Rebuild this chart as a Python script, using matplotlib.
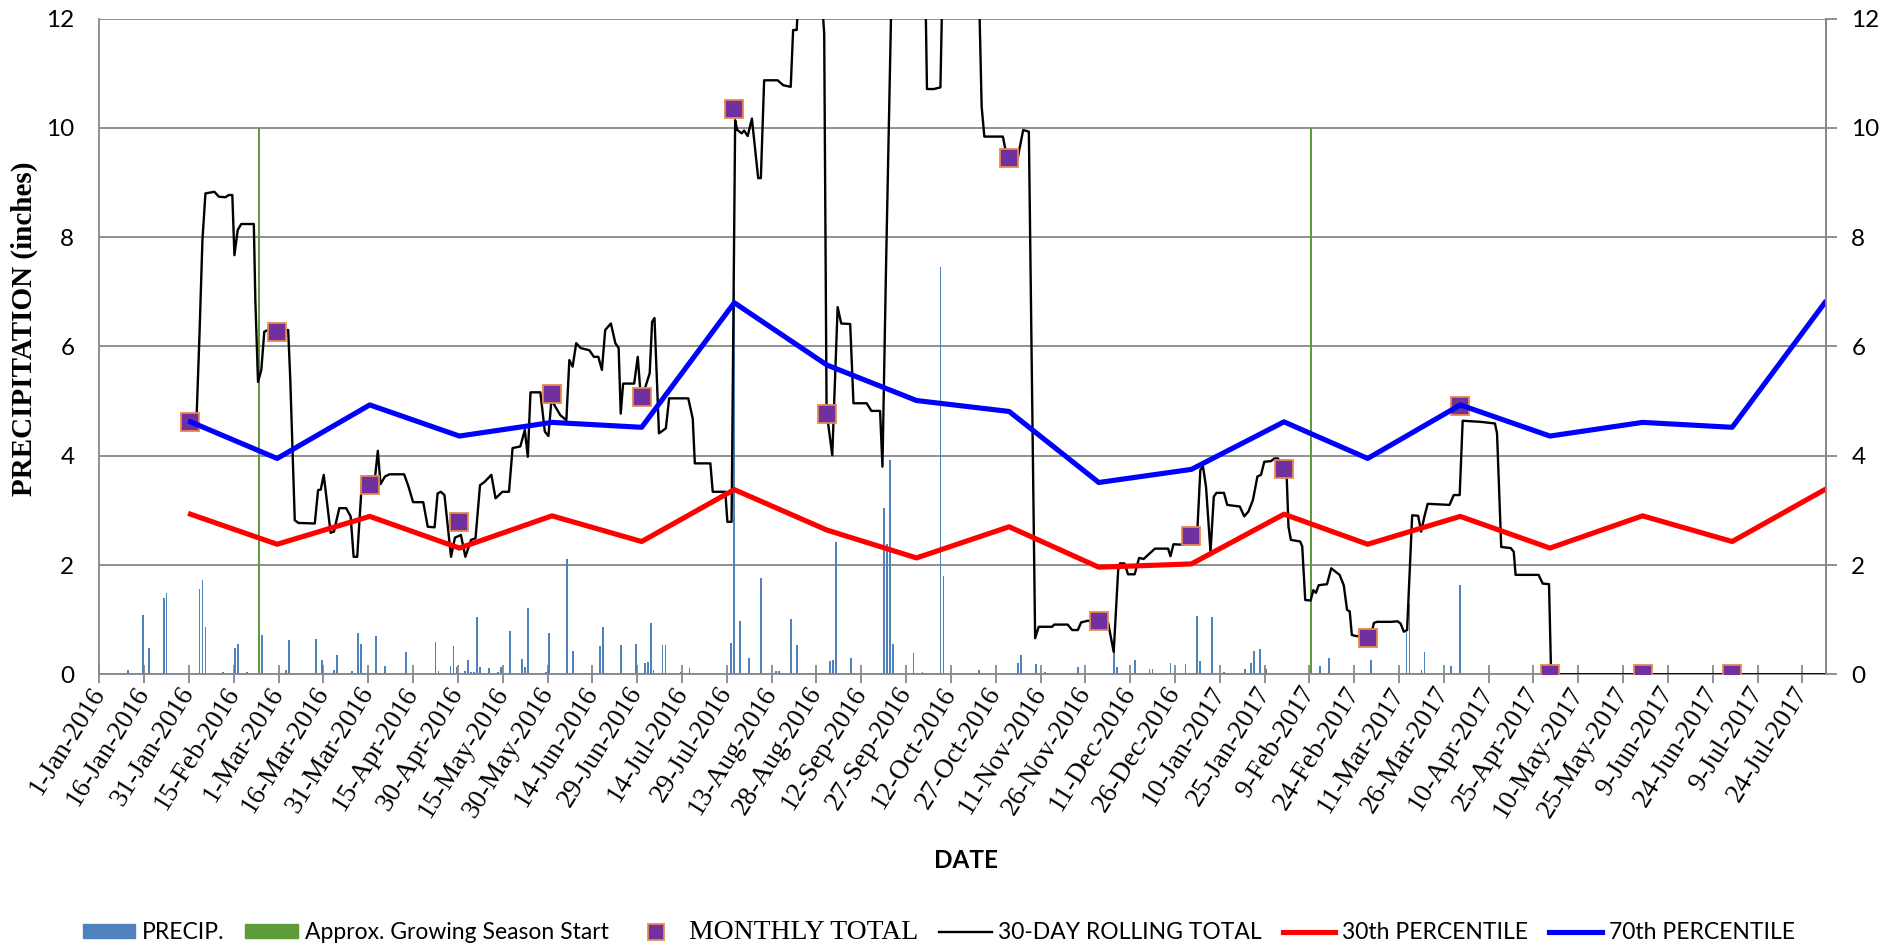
import pandas as pd
import matplotlib
matplotlib.use('Agg')
import matplotlib.pyplot as plt
import matplotlib.dates as mdates
from matplotlib.ticker import FuncFormatter
from matplotlib.patches import Patch
from matplotlib.lines import Line2D

start = pd.Timestamp('2016-01-01')

# daily precipitation, day number counted from 1-Jan-2016 (inches)
precip_day = [8, 9, 14, 16, 21, 22, 25, 33, 34, 35, 36, 41, 45, 46, 49, 54, 62, 63,
              72, 74, 78, 79, 84, 86, 87, 92, 95, 98, 102, 112, 113, 117, 118, 119,
              122, 123, 124, 125, 126, 127, 130, 133, 134, 137, 141, 142, 143, 149,
              150, 156, 158, 164, 167, 168, 174, 179, 182, 183, 184, 185, 188, 189,
              194, 197, 198, 200, 211, 212, 214, 217, 220, 221, 226, 227, 231, 233,
              244, 245, 246, 251, 262, 263, 264, 265, 272, 275, 278, 281, 282, 294,
              307, 308, 313, 316, 327, 333, 339, 340, 346, 347, 351, 352, 358, 363,
              366, 367, 368, 371, 372, 376, 383, 385, 386, 388, 390, 391, 405, 408,
              411, 425, 433, 437, 438, 442, 443, 452, 455]
precip_val = [0.02, 0.07, 1.09, 0.49, 1.40, 1.49, 0.02, 1.57, 1.73, 0.87, 0.03, 0.04,
              0.49, 0.55, 0.04, 0.72, 0.07, 0.62, 0.65, 0.26, 0.08, 0.35, 0.06, 0.75,
              0.55, 0.70, 0.16, 0.02, 0.41, 0.59, 0.06, 0.16, 0.52, 0.13, 0.06, 0.27,
              0.04, 0.04, 1.04, 0.13, 0.11, 0.04, 0.13, 0.79, 0.28, 0.13, 1.22, 0.04,
              0.75, 2.11, 0.43, 0.02, 0.52, 0.87, 0.53, 0.55, 0.21, 0.23, 0.93, 0.08,
              0.54, 0.54, 0.04, 0.12, 0.03, 0.02, 0.57, 7.00, 0.98, 0.30, 0.02, 1.76,
              0.06, 0.06, 1.02, 0.54, 0.24, 0.27, 2.42, 0.30, 3.04, 2.38, 3.92, 0.55,
              0.39, 0.05, 0.02, 7.45, 1.80, 0.07, 0.21, 0.35, 0.19, 0.04, 0.13, 0.02,
              0.55, 0.14, 0.26, 0.02, 0.10, 0.09, 0.21, 0.19, 0.02, 1.06, 0.24, 0.03,
              1.04, 0.04, 0.09, 0.20, 0.43, 0.46, 0.10, 0.03, 0.17, 0.15, 0.30, 0.27,
              0.02, 0.78, 1.29, 0.08, 0.41, 0.16, 1.63]

season_start = ['2016-02-23', '2017-02-09']
season_mark = [10, 10]

month_end = ['2016-01-31', '2016-02-29', '2016-03-31', '2016-04-30', '2016-05-31',
             '2016-06-30', '2016-07-31', '2016-08-31', '2016-09-30', '2016-10-31',
             '2016-11-30', '2016-12-31', '2017-01-31', '2017-02-28', '2017-03-31',
             '2017-04-30', '2017-05-31', '2017-06-30', '2017-07-31']
monthly_total = [4.62, 6.26, 3.46, 2.78, 5.13, 5.07, 10.35, 4.76, 13.5, 9.44,
                 0.98, 2.54, 3.75, 0.66, 4.91, 0.0, 0.0, 0.0]
pct30 = [2.93, 2.38, 2.89, 2.31, 2.90, 2.43, 3.38, 2.64, 2.13, 2.70, 1.96, 2.02,
         2.93, 2.38, 2.89, 2.31, 2.90, 2.43, 3.38]
pct70 = [4.62, 3.95, 4.93, 4.36, 4.61, 4.52, 6.80, 5.66, 5.01, 4.81, 3.51, 3.75,
         4.62, 3.95, 4.93, 4.36, 4.61, 4.52, 6.80]

# 30-day rolling total, day number counted from 1-Jan-2016
roll_day = [30.5, 32.5, 33.5, 34.5, 35.5, 38.5, 40.0, 42.2, 43.3, 44.5, 45.2, 46.3,
            47.5, 51.7, 52.2, 53.1, 54.2, 55.2, 56.4, 63.2, 63.9, 65.4, 66.6, 72.1,
            73.2, 74.1, 75.1, 76.6, 77.4, 78.5, 80.3, 82.6, 84.1, 85.1, 86.3, 87.8,
            89.3, 92.3, 93.2, 94.1, 95.6, 97.1, 102.0, 103.5, 105.0, 108.4, 109.9,
            112.2, 113.2, 114.3, 115.5, 117.7, 119.0, 121.0, 122.5, 124.4, 125.9,
            127.4, 128.9, 131.2, 132.6, 134.9, 137.1, 138.3, 140.9, 142.4, 143.4,
            144.3, 147.6, 149.1, 150.3, 151.3, 154.3, 156.3, 157.3, 158.4, 159.6,
            161.1, 164.0, 165.5, 167.0, 168.2, 169.3, 171.2, 172.7, 173.8, 174.5,
            175.3, 179.0, 180.2, 181.2, 182.7, 184.2, 185.0, 185.8, 187.3, 189.6,
            190.7, 197.1, 198.6, 199.3, 204.5, 205.3, 209.5, 210.2, 211.6, 212.8,
            213.5, 215.0, 215.8, 217.0, 218.4, 220.5, 221.4, 222.5, 227.0, 228.9,
            231.4, 232.2, 233.4, 234.5, 241.0, 242.6, 243.4, 245.3, 247.1, 248.3,
            251.3, 252.4, 256.8, 258.4, 261.3, 262.1, 263.3, 265.5, 276.2, 277.0,
            279.3, 281.5, 282.5, 294.0, 295.3, 296.2, 302.4, 303.2, 305.0, 307.2,
            309.2, 311.1, 313.2, 314.4, 318.9, 319.6, 324.1, 325.6, 327.5, 328.6,
            330.8, 337.6, 339.5, 341.0, 341.6, 343.1, 344.3, 346.5, 348.0, 349.5,
            353.3, 357.7, 358.5, 359.5, 363.0, 365.0, 367.5, 368.5, 369.4, 370.4,
            371.9, 373.0, 373.9, 376.4, 377.5, 381.7, 383.2, 384.6, 386.1, 387.6,
            388.8, 389.9, 392.1, 393.3, 394.5, 397.4, 398.0, 398.8, 401.9, 402.6,
            403.6, 405.4, 406.3, 407.2, 408.1, 410.9, 412.3, 413.7, 415.1, 416.5,
            417.6, 418.5, 419.2, 420.6, 425.5, 426.6, 427.6, 432.4, 434.5, 435.5,
            436.6, 437.7, 438.7, 439.4, 441.4, 442.4, 443.5, 444.6, 451.9, 453.3,
            455.3, 456.3, 462.3, 467.1, 467.8, 469.2, 472.4, 473.4, 474.0, 481.7,
            483.1, 485.2, 485.9, 577.5]
roll_val = [4.62, 4.65, 6.20, 7.95, 8.80, 8.83, 8.74, 8.73, 8.77, 8.77, 7.67, 8.13,
            8.24, 8.24, 6.85, 5.35, 5.57, 6.27, 6.30, 6.30, 5.39, 2.82, 2.77, 2.76,
            3.37, 3.38, 3.65, 2.95, 2.59, 2.61, 3.04, 3.04, 2.89, 2.15, 2.15, 3.46,
            3.62, 3.62, 4.09, 3.48, 3.62, 3.66, 3.66, 3.43, 3.15, 3.15, 2.70,
            2.69, 3.31, 3.34, 3.28, 2.15, 2.50, 2.55, 2.15, 2.46, 2.49,
            3.46, 3.52, 3.65, 3.22, 3.34, 3.34, 4.14, 4.17, 4.47, 3.98,
            5.16, 5.16, 4.44, 4.36, 5.02, 4.74, 4.65, 5.75, 5.63, 6.06,
            5.97, 5.93, 5.81, 5.81, 5.57, 6.30, 6.42, 6.06, 5.97, 4.77,
            5.32, 5.32, 5.81, 5.08, 5.25, 5.51, 6.45, 6.52, 4.41, 4.50,
            5.05, 5.05, 4.68, 3.86, 3.86, 3.34, 3.34, 2.79, 2.79, 10.14,
            9.96, 9.90, 9.95, 9.85, 10.17, 9.08, 9.08, 10.87, 10.87, 10.78,
            10.75, 11.79, 11.79, 13.0, 13.0, 11.73, 4.80, 4.01, 6.72, 6.42,
            6.41, 4.96, 4.96, 4.82, 4.82, 3.80, 7.46, 13.5, 13.5, 10.71,
            10.71, 10.74, 13.5, 13.5, 10.39, 9.84, 9.84, 9.62, 9.45, 9.40,
            9.96, 9.93, 0.66, 0.87, 0.87, 0.91, 0.91, 0.81, 0.81, 0.95,
            0.98, 0.95, 0.41, 1.91, 2.03, 2.03, 1.83, 1.83, 2.13, 2.11,
            2.30, 2.30, 2.16, 2.38, 2.37, 2.50, 2.64, 3.74, 3.80, 3.43,
            2.24, 3.25, 3.32, 3.32, 3.10, 3.07, 2.89, 2.98, 3.19, 3.62,
            3.65, 3.89, 3.90, 3.95, 3.95, 3.62, 2.70, 2.46, 2.43, 2.34,
            1.36, 1.35, 1.54, 1.49, 1.63, 1.65, 1.94, 1.88, 1.82, 1.63,
            1.18, 1.15, 0.72, 0.70, 0.69, 0.94, 0.96, 0.96, 0.97, 0.93,
            0.78, 0.81, 2.03, 2.91, 2.90, 2.61, 2.89, 3.12, 3.10, 3.28,
            3.28, 4.64, 4.62, 4.59, 4.41, 2.33, 2.31, 2.24, 1.82, 1.82,
            1.66, 1.65, 0.00, 0.00]

GRAY = '#878787'
SANS = ['Lato', 'DejaVu Sans']
SERIF = ['Liberation Serif', 'DejaVu Serif']

fig = plt.figure(figsize=(19, 9.46), dpi=100)
ax = fig.add_axes([0.0523, 0.2872, 0.9089, 0.6932])

half = pd.Timedelta(hours=12)
p_dates = start + pd.to_timedelta(precip_day, unit='D') + half
ax.bar(p_dates, precip_val, width=0.6, color='#4F81BD', zorder=2)
ax.bar(pd.to_datetime(season_start) + half, season_mark, width=0.5,
       color='#5E9C3A', zorder=2)

me = pd.to_datetime(month_end) + half
r_dates = start + pd.to_timedelta(roll_day, unit='D')
ax.plot(r_dates, roll_val, color='black', lw=1.7, zorder=3)
ax.plot(me[:len(monthly_total)], monthly_total, ls='none', marker='s', ms=13.5,
        mfc='#7030A0', mec='#E8884A', mew=1.3, zorder=4)
ax.plot(me, pct30, color='#FF0000', lw=3.7, zorder=5)
ax.plot(me, pct70, color='#0000FF', lw=3.7, zorder=5)

ax.set_xlim(start, start + pd.Timedelta(days=578))
ax.set_ylim(0, 12)
ax.set_yticks(range(0, 13, 2))
ax.yaxis.grid(True, color=GRAY, lw=1.3)
ax.set_axisbelow(True)

ticks = pd.date_range('2016-01-01', '2017-07-31', freq='15D')
ax.set_xticks(ticks)


def fmt(x, pos):
    d = mdates.num2date(x)
    return f"{d.day}-{d:%b-%Y}"


ax.xaxis.set_major_formatter(FuncFormatter(fmt))
ax.tick_params(axis='x', direction='inout', length=13, width=1.3, color=GRAY, pad=4)
for lab in ax.get_xticklabels():
    lab.set_rotation(58)
    lab.set_ha('right')
    lab.set_va('center')
    lab.set_rotation_mode('anchor')
    lab.set_fontfamily(SERIF)
    lab.set_fontsize(19.5)
ax.tick_params(axis='y', length=0, pad=18, labelsize=17.5)
for lab in ax.get_yticklabels():
    lab.set_fontfamily(SANS)

for s in ['left', 'bottom', 'right']:
    ax.spines[s].set_color(GRAY)
    ax.spines[s].set_linewidth(1.3)
ax.spines['top'].set_visible(False)

ax2 = ax.twinx()
ax2.set_ylim(0, 12)
ax2.set_yticks(range(0, 13, 2))
ax2.tick_params(axis='y', direction='out', length=8, width=1.3, color=GRAY,
                pad=10, labelsize=17.5)
for lab in ax2.get_yticklabels():
    lab.set_fontfamily(SANS)
for s in ['left', 'bottom', 'top']:
    ax2.spines[s].set_visible(False)
ax2.spines['right'].set_color(GRAY)
ax2.spines['right'].set_linewidth(1.3)

fig.text(0.0126, 0.652, 'PRECIPITATION (inches)', rotation=90, ha='center',
         va='center', fontfamily=SERIF, fontweight='bold', fontsize=21)
fig.text(0.5084, 0.0909, 'DATE', ha='center', va='center', fontfamily=SANS,
         fontweight='bold', fontsize=17.5)

handles = [
    Patch(color='#4F81BD'),
    Patch(color='#5E9C3A'),
    Line2D([], [], ls='none', marker='s', ms=12, mfc='#7030A0', mec='#E8884A', mew=1.3),
    Line2D([], [], color='black', lw=1.7),
    Line2D([], [], color='#FF0000', lw=3.7),
    Line2D([], [], color='#0000FF', lw=3.7),
]
labels = ['PRECIP.', 'Approx. Growing Season Start', 'MONTHLY TOTAL',
          '30-DAY ROLLING TOTAL', '30th PERCENTILE', '70th PERCENTILE']
leg = fig.legend(handles, labels, loc='center', bbox_to_anchor=(0.494, 0.014),
                 ncol=6, frameon=False, prop={'family': SANS, 'size': 16.5},
                 handlelength=2.3, handleheight=0.6, handletextpad=0.3,
                 columnspacing=0.9)
leg.get_texts()[2].set_fontfamily(SERIF)
leg.get_texts()[2].set_fontsize(20)

fig.savefig('out.png', dpi=100)
